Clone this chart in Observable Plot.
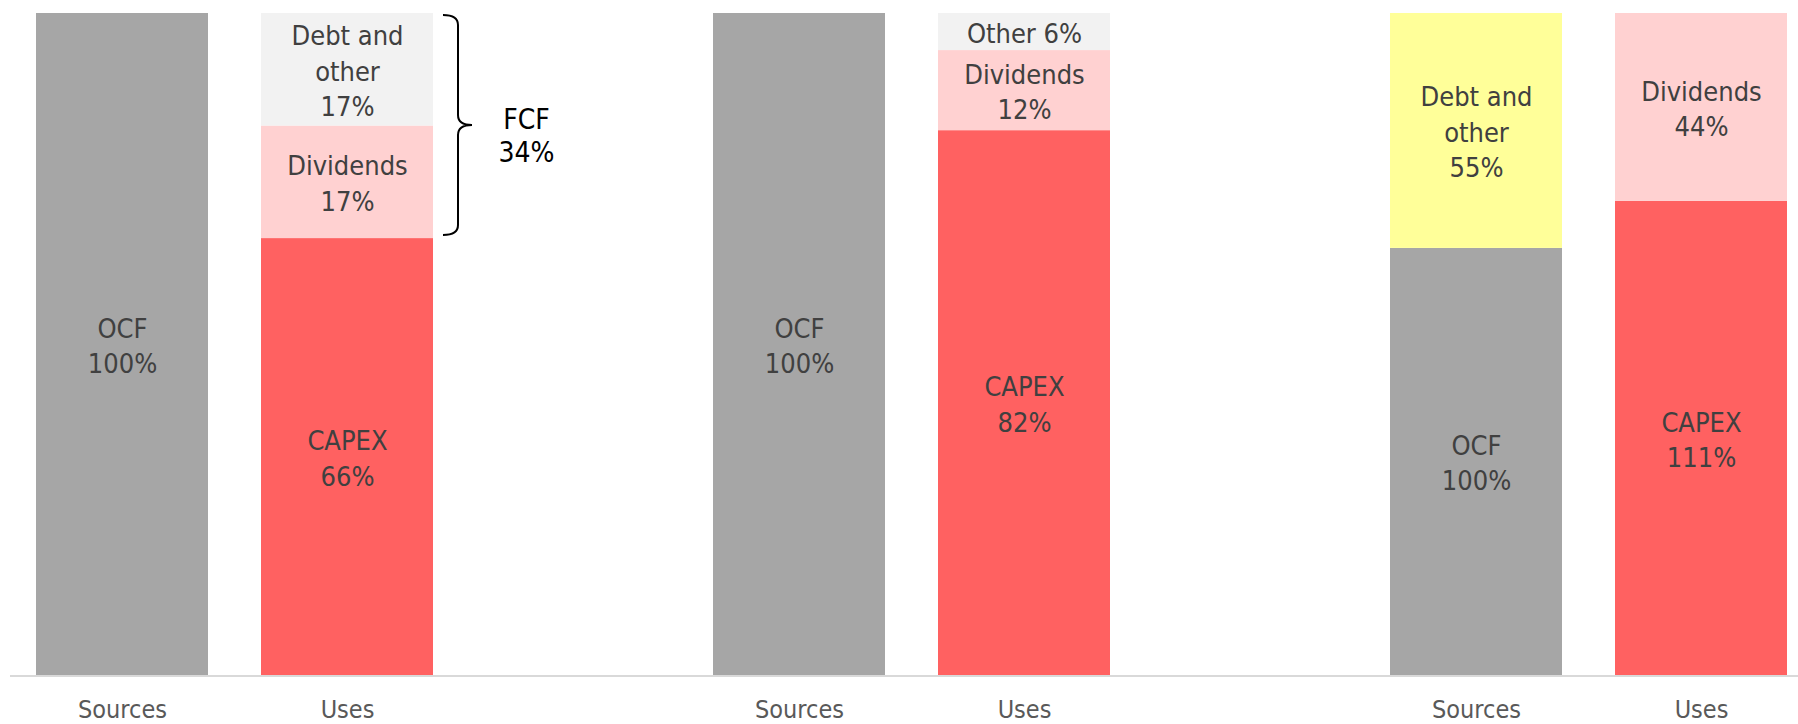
<!DOCTYPE html>
<html>
<head>
<meta charset="utf-8">
<script src="https://cdn.jsdelivr.net/npm/d3@7"></script>
<script src="https://cdn.jsdelivr.net/npm/@observablehq/plot@0.6"></script>
<style>
  html, body { margin: 0; padding: 0; background: #ffffff; overflow: hidden; }
</style>
</head>
<body>
<div id="chart"></div>
<script>
// ---- data ----
const panels = [1, 2, 3];
const sides = ["Sources", "Uses"];

const segPanel = [1, 1, 1, 1, 2, 2, 2, 2, 3, 3, 3, 3];
const segSide  = ["Sources", "Uses", "Uses", "Uses",
                  "Sources", "Uses", "Uses", "Uses",
                  "Sources", "Sources", "Uses", "Uses"];
const segLabel = ["OCF", "CAPEX", "Dividends", "Debt and\nother",
                  "OCF", "CAPEX", "Dividends", "Other",
                  "OCF", "Debt and\nother", "CAPEX", "Dividends"];
const segKind  = ["OCF", "CAPEX", "Dividends", "Other",
                  "OCF", "CAPEX", "Dividends", "Other",
                  "OCF", "Debt", "CAPEX", "Dividends"];
const segValue = [100, 66, 17, 17,
                  100, 82.3, 12.1, 5.6,
                  100, 55, 111, 44];
const inlineLabels = ["Other"];

const kinds = ["OCF", "CAPEX", "Dividends", "Other", "Debt"];
const kindColors = ["#A6A6A6", "#FF6161", "#FFD1D1", "#F2F2F2", "#FFFF99"];

// FCF annotation (panel 1, top two "Uses" segments)
const fcfPanel = 1;
const fcfSide = "Uses";
const fcfKinds = ["Dividends", "Other"];
const fcfTitle = "FCF";

// ---- derived table ----
const data = segPanel.map((p, i) => ({
  panel: p, side: segSide[i], kind: segKind[i], label: segLabel[i], value: segValue[i]
}));
const pct = v => `${Math.round(v)}%`;
const labelText = d => d.label + (inlineLabels.includes(d.label) ? " " : "\n") + pct(d.value);

const fcfRows = data.filter(d => d.panel === fcfPanel && d.side === fcfSide);
const fcfTotal = d3.sum(fcfRows, d => d.value);
const fcfValue = d3.sum(fcfRows.filter(d => fcfKinds.includes(d.kind)), d => d.value);
const fcfShare = fcfValue / fcfTotal;
const fcfData = [{panel: fcfPanel, side: fcfSide, y: 1 - fcfShare / 2, text: `${fcfTitle}\n${pct(fcfValue)}`}];

// curly brace beside the FCF segments (drawn once, in the first facet)
let braceDrawn = false;
function braceMark(index, scales) {
  if (braceDrawn) return null;
  braceDrawn = true;
  const {x, y} = scales;
  const xr = x(fcfSide) + (x.bandwidth ? x.bandwidth() : 0);
  const x0 = xr + 10, x1 = xr + 25, x2 = xr + 39;
  const yt = y(1) + 2, yb = y(1 - fcfShare) - 3, ym = (yt + yb) / 2, r = 10;
  const p = `M${x0},${yt}Q${x1},${yt} ${x1},${yt + r}L${x1},${ym - r}Q${x1},${ym} ${x2},${ym}` +
            `Q${x1},${ym} ${x1},${ym + r}L${x1},${yb - r}Q${x1},${yb} ${x0},${yb}`;
  const path = d3.create("svg:path")
    .attr("d", p)
    .attr("fill", "none")
    .attr("stroke", "#000000")
    .attr("stroke-width", 2);
  return path.node();
}

const stackOpts = {offset: "normalize", fx: "panel", x: "side", y: "value"};

const chart = Plot.plot({
  width: 1798,
  height: 724,
  marginTop: 13,
  marginBottom: 49,
  marginLeft: 35,
  marginRight: 8,
  style: {
    fontFamily: "'DejaVu Sans Condensed', 'DejaVu Sans', sans-serif",
    fontSize: "25px",
    color: "#595959",
    background: "#ffffff",
    overflow: "hidden"
  },
  fx: {domain: panels, axis: null, label: null, paddingInner: 0.4115, paddingOuter: 0},
  x: {domain: sides, paddingInner: 0.2345, paddingOuter: 0, tickSize: 0, tickPadding: 25, label: null},
  y: {domain: [0, 1], axis: null},
  color: {domain: kinds, range: kindColors},
  marks: [
    Plot.barY(data, Plot.stackY({...stackOpts, fill: "kind"})),
    Plot.ruleY([0], {stroke: "#D9D9D9", strokeWidth: 2, dy: 0.5, insetLeft: -26, insetRight: -253}),
    Plot.text(data, Plot.stackY({...stackOpts, text: labelText, fill: "#404040", fontSize: 27, lineHeight: 1.31, dy: -0.5})),
    Plot.text(fcfData, {fx: "panel", x: "side", y: "y", text: "text", fill: "#000000", fontSize: 28, lineHeight: 1.18, dx: 179, dy: 9}),
    braceMark
  ]
});

document.getElementById("chart").appendChild(chart);
</script>
</body>
</html>
